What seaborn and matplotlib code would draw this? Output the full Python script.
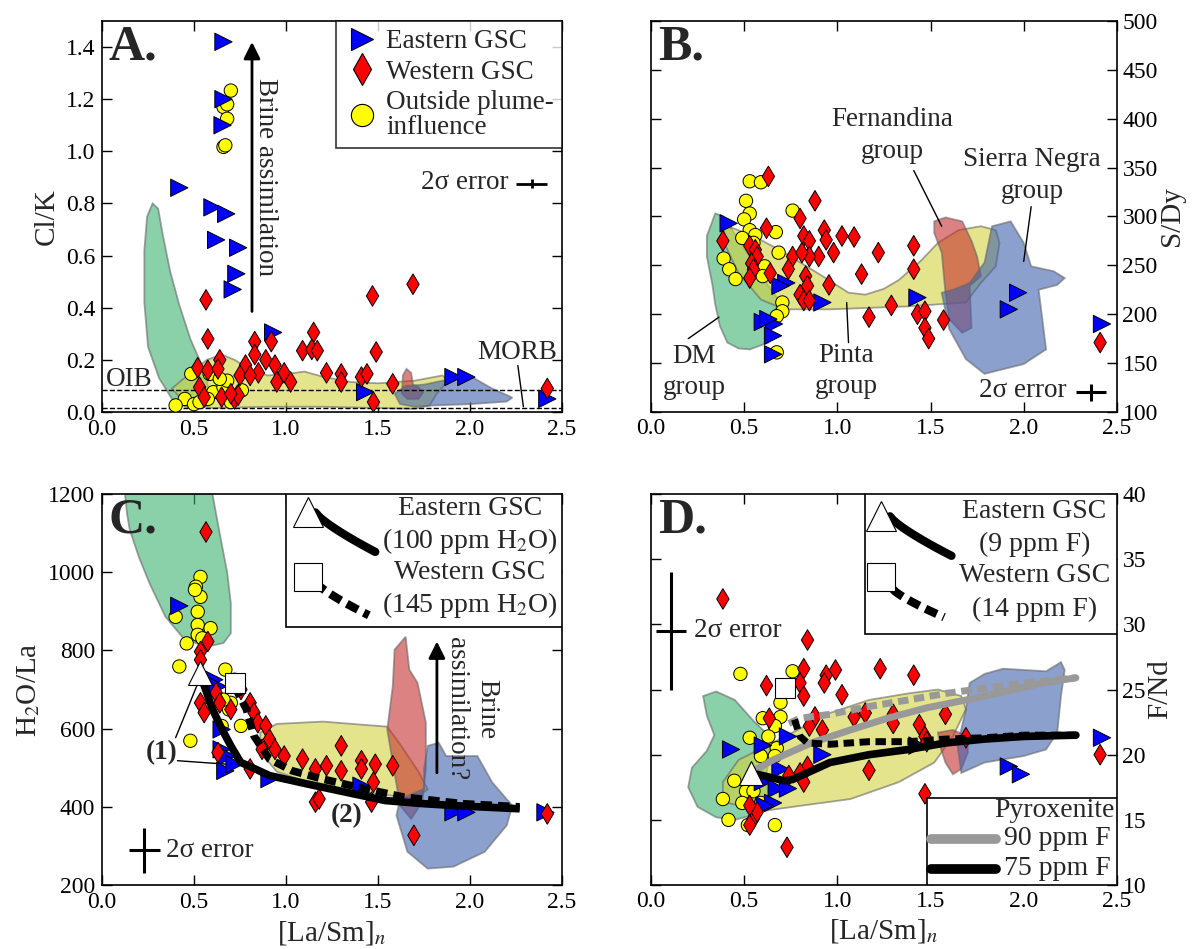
import matplotlib
matplotlib.use("Agg")
import matplotlib.pyplot as plt
import seaborn as sns
import pandas as pd
import numpy as np

sns.set_theme(style="ticks")
plt.rcParams['font.family'] = ['Liberation Serif', 'DejaVu Serif']
plt.rcParams['mathtext.fontset'] = 'stix'

# ---------------- PANEL A: Cl/K ----------------
a_east_x = [0.66, 0.66, 0.655, 0.42, 0.60, 0.675, 0.62, 0.74, 0.73, 0.71, 0.93, 1.43, 1.91, 1.98, 2.42]
a_east_y = [1.42, 1.20, 1.10, 0.86, 0.785, 0.76, 0.66, 0.63, 0.53, 0.47, 0.305, 0.076, 0.134, 0.134, 0.05]
a_west_x = [0.565, 0.575, 0.64, 0.52, 0.575, 0.63, 0.53, 0.555, 0.65, 0.72, 0.74, 0.83, 0.83, 0.78,
            0.75, 0.85, 0.89, 0.92, 0.94, 0.95, 0.99, 1.025, 1.09, 1.15, 1.14, 1.17, 1.22, 1.30, 1.30,
            1.41, 1.44, 1.47, 1.49, 1.475, 1.58, 1.69, 2.42, 0.805, 0.70]
a_west_y = [0.43, 0.28, 0.20, 0.17, 0.16, 0.165, 0.095, 0.057, 0.057, 0.05, 0.064, 0.27, 0.22, 0.18,
            0.14, 0.15, 0.20, 0.27, 0.18, 0.115, 0.15, 0.115, 0.235, 0.305, 0.24, 0.235, 0.15, 0.146, 0.115,
            0.134, 0.146, 0.445, 0.23, 0.038, 0.108, 0.49, 0.09, 0.14, 0.07]
a_out_x = [0.70, 0.66, 0.68, 0.68, 0.66, 0.67, 0.485, 0.45, 0.40, 0.50, 0.585, 0.605, 0.66, 0.68,
           0.76, 0.70, 0.575, 0.53, 0.64]
a_out_y = [1.233, 1.17, 1.18, 1.125, 1.017, 1.023, 0.146, 0.05, 0.025, 0.03, 0.146, 0.076, 0.095, 0.12,
           0.083, 0.038, 0.05, 0.038, 0.127]
a_oib = 0.086
a_morb = 0.015

a_dm_field = [(0.45, 0.02), (0.38, 0.05), (0.31, 0.13), (0.25, 0.25), (0.23, 0.42), (0.23, 0.62),
              (0.245, 0.75), (0.275, 0.80), (0.305, 0.78), (0.33, 0.68), (0.37, 0.54), (0.42, 0.41),
              (0.48, 0.28), (0.53, 0.20), (0.57, 0.13), (0.58, 0.07), (0.55, 0.03), (0.50, 0.015)]
a_pinta_field = [(0.38, 0.09), (0.43, 0.12), (0.50, 0.16), (0.57, 0.20), (0.65, 0.22), (0.72, 0.20),
                 (0.80, 0.165), (0.90, 0.14), (1.00, 0.145), (1.10, 0.155), (1.20, 0.135), (1.35, 0.115),
                 (1.50, 0.11), (1.70, 0.12), (1.85, 0.14), (1.88, 0.12), (1.82, 0.07), (1.78, 0.025),
                 (1.70, 0.012), (1.20, 0.02), (0.90, 0.02), (0.60, 0.015), (0.45, 0.035)]
a_fern_field = [(1.63, 0.07), (1.635, 0.14), (1.655, 0.165), (1.68, 0.15), (1.69, 0.105), (1.72, 0.095),
                (1.745, 0.075), (1.72, 0.05), (1.66, 0.05)]
a_sn_field = [(1.59, 0.07), (1.65, 0.10), (1.75, 0.105), (1.85, 0.12), (1.95, 0.13), (2.02, 0.13),
              (2.12, 0.09), (2.23, 0.055), (2.20, 0.04), (2.00, 0.03), (1.80, 0.025), (1.70, 0.02),
              (1.62, 0.03)]

# ---------------- PANEL B: S/Dy ----------------
b_east_x = [0.417, 0.726, 0.695, 0.92, 0.60, 0.66, 0.655, 0.655, 1.43, 1.97, 1.92, 2.42, 0.63]
b_east_y = [293, 232, 229, 212, 192, 190, 178, 159, 217, 222, 205, 190, 195]
b_west_x = [0.63, 0.88, 0.80, 0.62, 0.386, 0.82, 0.85, 0.93, 0.94, 1.025, 1.09, 0.98, 0.90, 0.76,
            0.85, 0.81, 0.53, 0.56, 0.57, 0.54, 0.55, 0.53, 0.64, 0.737, 0.83, 0.84, 0.955, 0.80,
            0.82, 0.85, 1.13, 1.22, 1.41, 1.41, 1.17, 1.29, 1.43, 1.47, 1.47, 1.49, 1.57, 2.41]
b_west_y = [341, 316, 298, 288, 275, 280, 275, 286, 276, 280, 279, 263, 259, 259,
            259, 263, 270, 266, 259, 252, 246, 237, 242, 246, 239, 229, 230, 220,
            214, 214, 241, 263, 270, 246, 197, 209, 200, 203, 186, 175, 194, 171]
b_out_x = [0.53, 0.59, 0.51, 0.53, 0.50, 0.53, 0.56, 0.49, 0.67, 0.76, 0.39, 0.42, 0.454, 0.685,
           0.61, 0.60, 0.705, 0.705, 0.675, 0.675, 0.55]
b_out_y = [336, 335, 316, 303, 297, 286, 281, 278, 284, 306, 257, 246, 236, 263,
           249, 239, 212, 203, 198, 161, 273]

b_dm_field = [(0.345, 303), (0.30, 280), (0.30, 259), (0.33, 230), (0.345, 210), (0.37, 188),
              (0.41, 171), (0.47, 165), (0.53, 164), (0.63, 171), (0.64, 198), (0.695, 212),
              (0.63, 229), (0.55, 253), (0.47, 276), (0.39, 300)]
b_pinta_field = [(0.39, 290), (0.44, 288), (0.55, 280), (0.716, 263), (0.92, 239), (1.06, 222),
                 (1.15, 220), (1.25, 226), (1.33, 235), (1.45, 255), (1.54, 273), (1.65, 286),
                 (1.77, 290), (1.85, 286), (1.87, 273), (1.85, 249), (1.77, 232), (1.69, 212),
                 (1.376, 208), (0.96, 205), (0.716, 205), (0.59, 215), (0.47, 242), (0.40, 270)]
b_fern_field = [(1.52, 295), (1.58, 299), (1.67, 295), (1.72, 275), (1.75, 259), (1.77, 239),
                (1.71, 229), (1.72, 186), (1.67, 181), (1.60, 195), (1.58, 222), (1.56, 263),
                (1.52, 283)]
b_sn_field = [(1.83, 290), (1.93, 295), (2.00, 273), (2.04, 249), (2.16, 244), (2.22, 237),
              (2.18, 230), (2.08, 225), (2.10, 195), (2.12, 164), (2.00, 149), (1.79, 139),
              (1.69, 154), (1.60, 185), (1.56, 222), (1.62, 225), (1.71, 232), (1.79, 253)]

# ---------------- PANEL C: H2O/La ----------------
c_east_x = [0.42, 0.61, 0.63, 0.65, 0.65, 0.68, 0.67, 0.72, 0.91, 1.41, 1.91, 1.98, 2.41]
c_east_y = [914, 725, 708, 598, 547, 530, 492, 509, 471, 454, 386, 386, 386]
c_west_x = [0.565, 0.575, 0.535, 0.535, 0.535, 0.555, 0.62, 0.64, 0.755, 0.805, 0.826, 0.847, 0.89,
            0.91, 0.94, 0.99, 1.09, 1.16, 1.22, 1.30, 1.30, 1.41, 1.41, 1.485, 1.475, 1.465, 1.58,
            1.16, 1.18, 1.695, 2.42, 0.805, 0.87, 0.63, 0.70]
c_west_y = [1103, 823, 797, 776, 666, 641, 692, 666, 700, 666, 641, 615, 607,
            573, 547, 530, 522, 497, 505, 556, 492, 518, 497, 509, 463, 412, 505,
            412, 420, 327, 382, 497, 547, 539, 649]
c_out_x = [0.535, 0.51, 0.52, 0.52, 0.52, 0.59, 0.545, 0.40, 0.46, 0.42, 0.48, 0.67, 0.72, 0.70,
           0.69, 0.65, 0.755, 0.66, 0.535, 0.505]
c_out_y = [988, 963, 899, 865, 840, 857, 831, 886, 818, 759, 569, 751, 725, 666,
           649, 607, 607, 674, 937, 955]

c_east_model_x = [0.544, 0.60, 0.65, 0.70, 0.753, 0.91, 1.12, 1.33, 1.54, 1.75, 1.96, 2.27]
c_east_model_y = [725, 650, 600, 556, 514, 480, 458, 437, 416, 408, 402, 395]
c_west_model_x = [0.72, 0.785, 0.826, 0.91, 1.035, 1.20, 1.43, 1.64, 1.96, 2.27]
c_west_model_y = [708, 649, 581, 522, 492, 471, 446, 425, 408, 400]

c_dm_field = [(0.125, 1200), (0.60, 1200), (0.64, 1098), (0.68, 1000), (0.70, 920), (0.70, 844),
              (0.66, 819), (0.575, 810), (0.45, 827), (0.345, 886), (0.26, 970), (0.20, 1039),
              (0.15, 1110), (0.136, 1149)]
c_pinta_field = [(0.86, 590), (0.95, 612), (1.20, 618), (1.55, 605), (1.62, 560), (1.72, 490),
                 (1.77, 445), (1.70, 420), (1.55, 430), (1.20, 450), (0.95, 490), (0.86, 540)]
c_fern_field = [(1.59, 802), (1.65, 835), (1.67, 751), (1.715, 717), (1.76, 615), (1.76, 497),
                (1.74, 412), (1.68, 369), (1.62, 403), (1.58, 513), (1.55, 598), (1.58, 708)]
c_sn_field = [(1.77, 556), (1.83, 564), (1.87, 530), (2.04, 530), (2.12, 463), (2.23, 403),
              (2.20, 353), (2.08, 285), (1.91, 247), (1.77, 242), (1.66, 285), (1.60, 378),
              (1.62, 420), (1.75, 446), (1.75, 497)]

# ---------------- PANEL D: F/Nd ----------------
d_east_x = [0.43, 0.60, 0.735, 0.92, 1.43, 0.60, 0.675, 0.735, 0.655, 0.61, 1.92, 1.985, 2.42, 0.695]
d_east_y = [20.4, 20.7, 21.4, 20.0, 20.7, 17.9, 17.4, 17.4, 16.3, 16.1, 19.1, 18.5, 21.3, 18.9]
d_west_x = [0.386, 0.84, 0.82, 0.62, 0.80, 0.82, 0.94, 0.93, 0.99, 1.025, 1.23, 1.41, 0.635, 0.88,
            0.85, 0.92, 1.09, 1.15, 1.30, 1.30, 1.44, 1.58, 1.47, 1.48, 1.69, 0.84, 0.80, 0.82,
            0.74, 1.17, 1.47, 0.73, 0.55, 0.53, 0.57, 0.53, 2.41]
d_west_y = [31.95, 28.8, 26.6, 25.3, 25.5, 24.5, 26.1, 25.5, 26.5, 24.6, 26.6, 26.1, 22.8, 22.9,
            22.2, 21.9, 22.9, 23.2, 23.1, 22.4, 22.3, 23.1, 21.4, 21.0, 21.3, 19.1, 18.6, 17.9,
            18.4, 18.8, 17.0, 12.9, 15.1, 14.6, 15.6, 16.1, 20.0]
d_out_x = [0.48, 0.76, 0.695, 0.60, 0.695, 0.665, 0.53, 0.63, 0.675, 0.665, 0.59, 0.447, 0.51,
           0.55, 0.386, 0.49, 0.416, 0.52, 0.665, 0.59]
d_out_y = [26.2, 26.4, 24.0, 22.8, 22.9, 22.2, 21.3, 21.4, 20.5, 19.9, 19.9, 18.0, 17.2,
           17.2, 16.6, 16.3, 15.0, 14.6, 14.6, 16.3]

d_east_model_x = [0.57, 0.716, 0.76, 0.96, 1.17, 1.38, 1.58, 1.79, 2.0, 2.28]
d_east_model_y = [18.5, 18.0, 18.1, 19.4, 20.0, 20.4, 20.9, 21.2, 21.4, 21.5]
d_west_model_x = [0.77, 0.80, 0.84, 0.96, 1.17, 1.38, 1.58, 1.79, 2.0, 2.28]
d_west_model_y = [22.7, 21.4, 20.9, 20.8, 21.0, 21.0, 21.2, 21.3, 21.5, 21.5]
d_pyx90_x = [0.57, 0.655, 0.86, 1.07, 1.27, 1.48, 1.69, 1.89, 2.10, 2.28]
d_pyx90_y = [18.9, 19.6, 20.9, 21.9, 22.8, 23.6, 24.2, 24.8, 25.5, 25.9]
d_pyx90w_x = [0.74, 0.80, 0.96, 1.17, 1.38, 1.58, 1.79, 2.0, 2.28]
d_pyx90w_y = [22.4, 22.8, 23.1, 23.7, 24.2, 24.7, 25.1, 25.5, 25.9]

d_dm_field = [(0.28, 24.5), (0.35, 24.85), (0.45, 24.2), (0.55, 22.6), (0.63, 21.5), (0.64, 20.5),
              (0.62, 18.5), (0.63, 16.5), (0.58, 15.5), (0.45, 15.0), (0.35, 15.2), (0.25, 16.0),
              (0.20, 17.5), (0.22, 19.0), (0.30, 20.3), (0.34, 21.5), (0.30, 23.0)]
d_pinta_field = [(0.386, 17.9), (0.47, 19.6), (0.65, 20.9), (0.76, 21.7), (0.96, 23.2), (1.17, 24.2),
                 (1.38, 24.7), (1.54, 25.0), (1.665, 24.5), (1.69, 23.5), (1.62, 21.4), (1.52, 19.4),
                 (1.33, 17.9), (1.07, 16.6), (0.76, 16.0), (0.61, 15.7), (0.41, 16.3), (0.386, 17.1)]
d_fern_field = [(1.54, 21.7), (1.62, 21.9), (1.70, 21.4), (1.70, 20.15), (1.665, 18.9), (1.62, 18.5),
                (1.58, 19.4), (1.55, 20.7)]
d_sn_field = [(1.79, 26.2), (1.89, 26.6), (2.12, 26.4), (2.20, 27.1), (2.22, 26.5), (2.20, 24.5),
              (2.18, 21.7), (2.12, 20.4), (2.0, 19.9), (1.79, 19.4), (1.665, 18.6), (1.645, 20.7),
              (1.69, 23.5), (1.71, 25.5)]

# ---------------- styling ----------------
groups = ['Outside plume-\ninfluence', 'Eastern GSC', 'Western GSC']
markers = {'Eastern GSC': '>', 'Western GSC': 'd', 'Outside plume-\ninfluence': 'o'}
palette = {'Eastern GSC': '#0000ff', 'Western GSC': '#ff0000', 'Outside plume-\ninfluence': '#ffff00'}
sizes = {'Eastern GSC': 155, 'Western GSC': 110, 'Outside plume-\ninfluence': 92}
field_colors = ['#3cb371', '#d2d23f', '#c52f2f', '#3f61ac']
FS = 19.5


def scatter_groups(ax, ox, oy, ex, ey, wx, wy):
    df = pd.DataFrame({
        'x': list(ox) + list(ex) + list(wx),
        'y': list(oy) + list(ey) + list(wy),
        'group': [groups[0]] * len(ox) + [groups[1]] * len(ex) + [groups[2]] * len(wx),
    })
    sns.scatterplot(data=df, x='x', y='y', hue='group', style='group', size='group',
                    markers=markers, palette=palette, sizes=sizes, edgecolor='black',
                    linewidth=0.7, legend=False, ax=ax, zorder=3)


def draw_fields(ax, fields):
    for pts, c in zip(fields, field_colors):
        ax.fill([p[0] for p in pts], [p[1] for p in pts], facecolor=c, alpha=0.6,
                edgecolor='#666666', linewidth=1.3, zorder=1)


def style_axes(ax, right=False):
    ax.tick_params(direction='in', length=7, width=1, top=True, right=True, left=True,
                   bottom=True, labelsize=17, colors='black', pad=5)
    if right:
        ax.tick_params(labelleft=False, labelright=True, pad=4)
        ax.yaxis.set_label_position('right')
    for s in ax.spines.values():
        s.set_color('black')
        s.set_linewidth(1.2)
    ax.set_xlim(0, 2.5)
    ax.set_xticks([0.0, 0.5, 1.0, 1.5, 2.0, 2.5])
    ax.set_xticklabels(['0.0', '0.5', '1.0', '1.5', '2.0', '2.5'])
    ax.set_xlabel('')
    ax.set_ylabel('')


def panel_label(ax, s):
    ax.text(0.015, 0.99, s, transform=ax.transAxes, fontsize=36, fontweight='bold',
            va='top', ha='left', zorder=6)


fig = plt.figure(figsize=(11.92, 9.49), dpi=100)
axA = fig.add_axes([0.0856, 0.5659, 0.3859, 0.412])
axB = fig.add_axes([0.5461, 0.5659, 0.3909, 0.412])
axC = fig.add_axes([0.0856, 0.0674, 0.3859, 0.412])
axD = fig.add_axes([0.5461, 0.0674, 0.3909, 0.412])

# ----- A -----
draw_fields(axA, [a_dm_field, a_pinta_field, a_fern_field, a_sn_field])
axA.axhline(a_oib, color='black', ls='--', lw=1, zorder=2)
axA.axhline(a_morb, color='black', ls='--', lw=1, zorder=2)
scatter_groups(axA, a_out_x, a_out_y, a_east_x, a_east_y, a_west_x, a_west_y)
style_axes(axA)
axA.set_ylim(0, 1.5)
axA.set_yticks(np.arange(0, 1.41, 0.2))
axA.set_yticklabels([f"{v:.1f}" for v in np.arange(0, 1.41, 0.2)])
axA.set_ylabel('Cl/K', fontsize=21)
panel_label(axA, 'A.')
axA.annotate('', xy=(0.815, 1.43), xytext=(0.815, 0.375),
             arrowprops=dict(arrowstyle='-|>', color='black', lw=2, mutation_scale=25))
axA.text(0.89, 0.90, 'Brine assimilation', rotation=-90, fontsize=FS, ha='center', va='center')
axA.text(0.02, 0.125, 'OIB', fontsize=FS, ha='left', va='center')
axA.text(2.04, 0.229, 'MORB', fontsize=FS, ha='left', va='center')
axA.plot([2.26, 2.29], [0.178, 0.02], color='black', lw=1)
axA.errorbar([2.335], [0.875], xerr=[0.085], yerr=[0.017], fmt='none', ecolor='black', elinewidth=2)
axA.text(2.21, 0.88, '2σ error', fontsize=FS, ha='right', va='center')
handles = [plt.Line2D([], [], ls='', marker=markers[g], markersize=16, markerfacecolor=palette[g],
                      markeredgecolor='black', markeredgewidth=0.8) for g in
           ['Eastern GSC', 'Western GSC', 'Outside plume-\ninfluence']]
leg = axA.legend(handles, ['Eastern GSC', 'Western GSC', 'Outside plume-\ninfluence'],
                 loc='upper right', fontsize=FS, frameon=True, fancybox=False, borderaxespad=0,
                 handletextpad=0.25, labelspacing=0.2, borderpad=0.3, handlelength=1.3)
leg.get_frame().set_edgecolor('black')
leg.get_frame().set_linewidth(1.2)
for txt in leg.get_texts():
    txt.set_linespacing(1.0)

# ----- B -----
draw_fields(axB, [b_dm_field, b_pinta_field, b_fern_field, b_sn_field])
scatter_groups(axB, b_out_x, b_out_y, b_east_x, b_east_y, b_west_x, b_west_y)
style_axes(axB, right=True)
axB.set_ylim(100, 500)
axB.set_yticks(range(100, 501, 50))
axB.set_ylabel('S/Dy', fontsize=21, labelpad=1)
panel_label(axB, 'B.')
axB.text(1.293, 383, 'Fernandina\ngroup', fontsize=FS, ha='center', va='center', linespacing=1.35)
axB.plot([1.41, 1.56], [347, 290], color='black', lw=1)
axB.text(2.046, 342, 'Sierra Negra\ngroup', fontsize=FS, ha='center', va='center', linespacing=1.35)
axB.plot([2.04, 2.0], [310, 254], color='black', lw=1)
axB.text(0.231, 141, 'DM\ngroup', fontsize=FS, ha='center', va='center', linespacing=1.35)
axB.plot([0.20, 0.365], [175, 197], color='black', lw=1)
axB.text(1.046, 142, 'Pinta\ngroup', fontsize=FS, ha='center', va='center', linespacing=1.35)
axB.plot([1.06, 1.05], [171, 212], color='black', lw=1)
axB.errorbar([2.36], [120], xerr=[0.08], yerr=[9], fmt='none', ecolor='black', elinewidth=2.2)
axB.text(2.23, 122, '2σ error', fontsize=FS, ha='right', va='center')

# ----- C -----
draw_fields(axC, [c_dm_field, c_pinta_field, c_fern_field, c_sn_field])
scatter_groups(axC, c_out_x, c_out_y, c_east_x, c_east_y, c_west_x, c_west_y)
axC.plot(c_west_model_x, c_west_model_y, color='black', lw=5.5, ls=(0, (1.5, 0.8)), zorder=4)
axC.plot(c_east_model_x, c_east_model_y, color='black', lw=5.5, zorder=4, solid_capstyle='butt')
axC.plot([0.533], [742], marker='^', markersize=17, markerfacecolor='white',
         markeredgecolor='black', markeredgewidth=0.8, zorder=5)
axC.plot([0.72], [717], marker='s', markersize=14, markerfacecolor='white',
         markeredgecolor='black', markeredgewidth=0.8, zorder=5)
style_axes(axC)
axC.set_ylim(200, 1200)
axC.set_yticks(range(200, 1201, 200))
axC.set_ylabel('H$_2$O/La', fontsize=21)
axC.set_xlabel('[La/Sm]$_n$', fontsize=21)
panel_label(axC, 'C.')
axC.text(0.324, 539, '(1)', fontsize=FS, fontweight='bold', ha='center', va='center')
axC.plot([0.40, 0.533], [577, 730], color='black', lw=1)
axC.plot([0.41, 0.68], [518, 509], color='black', lw=1)
axC.text(1.33, 378, '(2)', fontsize=FS, fontweight='bold', ha='center', va='center')
axC.annotate('', xy=(1.82, 830), xytext=(1.82, 480),
             arrowprops=dict(arrowstyle='-|>', color='black', lw=2, mutation_scale=25))
axC.text(2.01, 651, 'Brine\nassimilation?', rotation=-90, fontsize=FS, ha='center', va='center',
         multialignment='center', linespacing=1.25)
axC.errorbar([0.23], [289], xerr=[0.084], yerr=[57], fmt='none', ecolor='black', elinewidth=2.2)
axC.text(0.345, 289, '2σ error', fontsize=FS, ha='left', va='center')
# legend box
axC.add_patch(plt.Rectangle((0.40, 0.661), 0.60, 0.339, transform=axC.transAxes, facecolor='white',
                            edgecolor='black', lw=1.2, zorder=6))
t = np.linspace(0, 1, 20)
axC.plot(0.464 + 0.13 * t, 0.953 - 0.101 * t ** 0.8, transform=axC.transAxes, color='black', lw=6, zorder=7)
axC.plot([0.448], [0.953], marker='^', markersize=22, markerfacecolor='white', markeredgecolor='black',
         markeredgewidth=0.8, transform=axC.transAxes, zorder=8)
axC.plot(0.464 + 0.116 * t, 0.775 - 0.085 * t ** 0.8, transform=axC.transAxes, color='black', lw=6,
         ls=(0, (1.5, 0.8)), zorder=7)
axC.plot([0.448], [0.788], marker='s', markersize=20, markerfacecolor='white', markeredgecolor='black',
         markeredgewidth=0.8, transform=axC.transAxes, zorder=8)
axC.text(0.80, 0.962, 'Eastern GSC', transform=axC.transAxes, fontsize=20, ha='center', va='center', zorder=8)
axC.text(0.80, 0.880, '(100 ppm H$_2$O)', transform=axC.transAxes, fontsize=20, ha='center', va='center', zorder=8)
axC.text(0.80, 0.800, 'Western GSC', transform=axC.transAxes, fontsize=20, ha='center', va='center', zorder=8)
axC.text(0.80, 0.716, '(145 ppm H$_2$O)', transform=axC.transAxes, fontsize=20, ha='center', va='center', zorder=8)

# ----- D -----
draw_fields(axD, [d_dm_field, d_pinta_field, d_fern_field, d_sn_field])
scatter_groups(axD, d_out_x, d_out_y, d_east_x, d_east_y, d_west_x, d_west_y)
axD.plot(d_pyx90w_x, d_pyx90w_y, color='#999999', lw=5, ls=(0, (1.5, 0.8)), zorder=4)
axD.plot(d_pyx90_x, d_pyx90_y, color='#999999', lw=5, zorder=4)
axD.plot(d_west_model_x, d_west_model_y, color='black', lw=5, ls=(0, (1.5, 0.8)), zorder=4)
axD.plot(d_east_model_x, d_east_model_y, color='black', lw=5.5, zorder=4)
axD.plot([0.536], [18.6], marker='^', markersize=17, markerfacecolor='white',
         markeredgecolor='black', markeredgewidth=0.8, zorder=5)
axD.plot([0.72], [25.1], marker='s', markersize=14, markerfacecolor='white',
         markeredgecolor='black', markeredgewidth=0.8, zorder=5)
style_axes(axD, right=True)
axD.set_ylim(10, 40)
axD.set_yticks(range(10, 41, 5))
axD.set_ylabel('F/Nd', fontsize=21, labelpad=1)
axD.set_xlabel('[La/Sm]$_n$', fontsize=21)
panel_label(axD, 'D.')
axD.errorbar([0.107], [29.5], xerr=[0.08], yerr=[4.5], fmt='none', ecolor='black', elinewidth=2.2)
axD.text(0.23, 29.5, '2σ error', fontsize=FS, ha='left', va='center')
# upper legend box
axD.add_patch(plt.Rectangle((0.46, 0.641), 0.54, 0.359, transform=axD.transAxes, facecolor='white',
                            edgecolor='black', lw=1.2, zorder=6))
axD.plot(0.513 + 0.132 * t, 0.943 - 0.101 * t ** 0.8, transform=axD.transAxes, color='black', lw=6, zorder=7)
axD.plot([0.493], [0.943], marker='^', markersize=22, markerfacecolor='white', markeredgecolor='black',
         markeredgewidth=0.8, transform=axD.transAxes, zorder=8)
axD.plot(0.519 + 0.11 * t, 0.757 - 0.072 * t ** 0.8, transform=axD.transAxes, color='black', lw=6,
         ls=(0, (1.5, 0.8)), zorder=7)
axD.plot([0.493], [0.787], marker='s', markersize=20, markerfacecolor='white', markeredgecolor='black',
         markeredgewidth=0.8, transform=axD.transAxes, zorder=8)
axD.text(0.823, 0.956, 'Eastern GSC', transform=axD.transAxes, fontsize=20, ha='center', va='center', zorder=8)
axD.text(0.823, 0.871, '(9 ppm F)', transform=axD.transAxes, fontsize=20, ha='center', va='center', zorder=8)
axD.text(0.823, 0.791, 'Western GSC', transform=axD.transAxes, fontsize=20, ha='center', va='center', zorder=8)
axD.text(0.823, 0.706, '(14 ppm F)', transform=axD.transAxes, fontsize=20, ha='center', va='center', zorder=8)
# lower legend box
axD.add_patch(plt.Rectangle((0.593, 0.0), 0.407, 0.222, transform=axD.transAxes, facecolor='white',
                            edgecolor='black', lw=1.2, zorder=6))
axD.text(0.996, 0.19, 'Pyroxenite', transform=axD.transAxes, fontsize=20, ha='right', va='center', zorder=8)
axD.plot([0.60, 0.74], [0.118, 0.118], transform=axD.transAxes, color='#999999', lw=7, zorder=7)
axD.text(0.757, 0.118, '90 ppm F', transform=axD.transAxes, fontsize=20, ha='left', va='center', zorder=8)
axD.plot([0.60, 0.74], [0.042, 0.042], transform=axD.transAxes, color='black', lw=7, zorder=7)
axD.text(0.757, 0.042, '75 ppm F', transform=axD.transAxes, fontsize=20, ha='left', va='center', zorder=8)

fig.savefig('out.png', dpi=100)
